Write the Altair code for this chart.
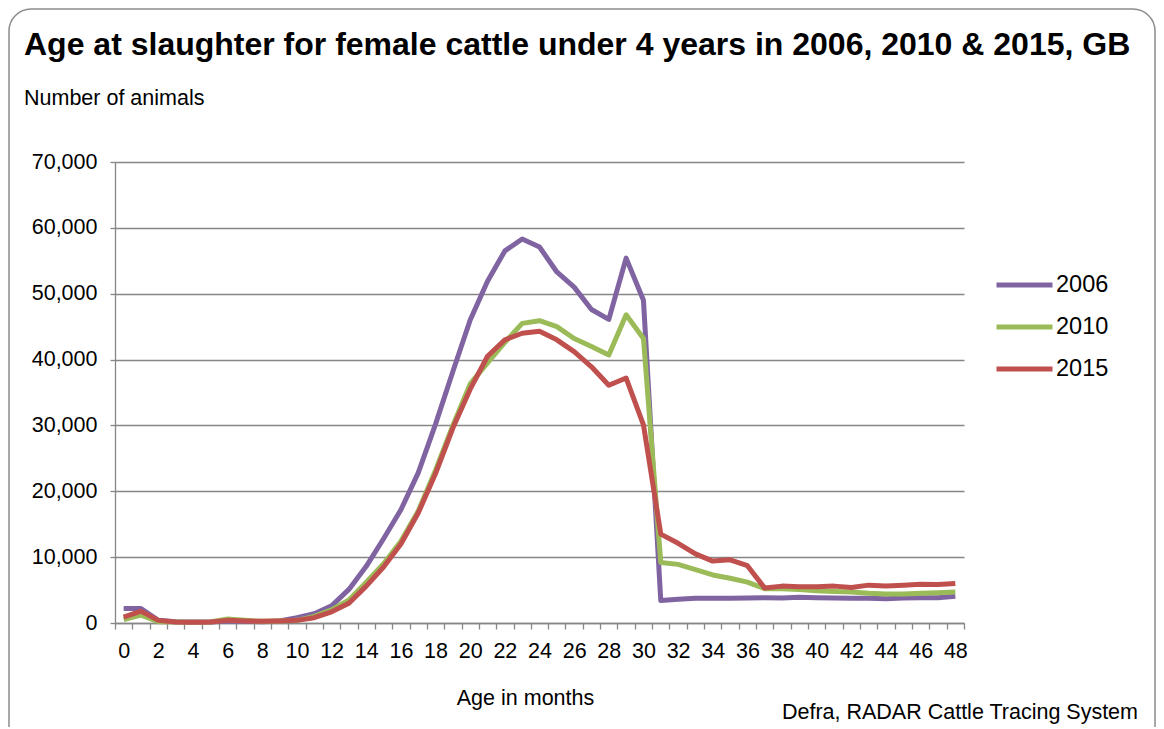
import altair as alt
import pandas as pd

# ---------------- data ----------------
months = list(range(49))
years = ["2006", "2010", "2015"]
colors = ["#8064A2", "#9BBB59", "#C0504D"]

y2006 = [2200, 2200, 400, 200, 150, 150, 300, 250, 200, 300,
         800, 1400, 2600, 5100, 8600, 12800, 17200, 22800, 30200, 38200,
         46000, 51900, 56500, 58300, 57100, 53300, 51000, 47600, 46100, 55400,
         49000, 3400, 3600, 3750, 3750, 3750, 3800, 3850, 3800, 3900,
         3850, 3800, 3750, 3750, 3700, 3800, 3850, 3850, 4050]
y2010 = [500, 1200, 200, 150, 100, 150, 600, 400, 250, 300,
         400, 1000, 2000, 3500, 6200, 9000, 12400, 17000, 23200, 30000,
         36300, 39500, 42600, 45500, 45900, 45000, 43200, 42000, 40700, 46800,
         43200, 9200, 8900, 8100, 7300, 6800, 6200, 5200, 5200, 5100,
         4900, 4800, 4700, 4500, 4400, 4400, 4500, 4600, 4700]
y2015 = [900, 1800, 400, 150, 100, 150, 400, 300, 250, 300,
         400, 800, 1700, 3000, 5600, 8500, 12000, 16700, 22700, 29600,
         35500, 40500, 43000, 44000, 44300, 43000, 41200, 38900, 36100, 37200,
         30100, 13500, 12100, 10500, 9400, 9600, 8700, 5300, 5600, 5500,
         5500, 5600, 5400, 5750, 5600, 5750, 5900, 5850, 6000]

title_text = "Age at slaughter for female cattle under 4 years in 2006, 2010 & 2015, GB"
y_title = "Number of animals"
x_title = "Age in months"
source_text = "Defra, RADAR Cattle Tracing System"

y_ticks = [0, 10000, 20000, 30000, 40000, 50000, 60000, 70000]
x_boundaries = [m - 0.5 for m in months] + [48.5]

rows = []
for yr, vals in zip(years, [y2006, y2010, y2015]):
    for m, v in zip(months, vals):
        rows.append({"month": m, "animals": v, "year": yr})
df = pd.DataFrame(rows)

# ---------------- layout ----------------
W, H = 849, 461
GREY = "#868686"
FONT = "Liberation Sans"
FS = 21.5

x_scale = alt.Scale(domain=[-0.5, 48.5], nice=False, zero=False)
y_scale = alt.Scale(domain=[0, 70000], nice=False)

lines = alt.Chart(df).mark_line(strokeWidth=5, strokeJoin="round").encode(
    x=alt.X(
        "month:Q",
        scale=x_scale,
        axis=alt.Axis(
            values=x_boundaries,
            labelExpr="(datum.value + 0.5) % 2 == 0 ? format(datum.value + 0.5, 'd') : ''",
            labelOffset=8.66,
            labelOverlap=False,
            labelFlush=False,
            labelBound=False,
            labelFontSize=FS,
            labelPadding=11,
            labelColor="#000000",
            tickSize=6,
            tickColor=GREY,
            tickWidth=1.3,
            domainColor=GREY,
            domainWidth=1.3,
            grid=False,
            title=x_title,
            titleFontSize=FS,
            titleFontWeight="normal",
            titleColor="#000000",
            titleX=410,
            titleY=81,
            titleAlign="center",
            titleBaseline="alphabetic",
        ),
    ),
    y=alt.Y(
        "animals:Q",
        scale=y_scale,
        axis=alt.Axis(
            values=y_ticks,
            format=",.0f",
            labelFontSize=FS,
            labelPadding=13,
            labelColor="#000000",
            tickSize=5,
            tickColor=GREY,
            tickWidth=1.3,
            domainColor=GREY,
            domainWidth=1.3,
            grid=True,
            gridColor=GREY,
            gridWidth=1.3,
            title=None,
        ),
    ),
    color=alt.Color(
        "year:N",
        scale=alt.Scale(domain=years, range=colors),
        legend=alt.Legend(
            orient="none",
            legendX=879,
            legendY=92.5,
            title=None,
            direction="vertical",
            labelFontSize=23.5,
            labelColor="#000000",
            symbolType="stroke",
            symbolSize=3136,
            symbolStrokeWidth=5,
            rowPadding=0,
            labelOffset=1,
        ),
    ),
    order=alt.Order("month:Q"),
)

frame_df = pd.DataFrame({"k": [0]})
frame = alt.Chart(frame_df).mark_rect(
    cornerRadius=22, fillOpacity=0, stroke="#8c8c8c", strokeWidth=1.5
).encode(
    x=alt.value(-106), x2=alt.value(1040), y=alt.value(-153), y2=alt.value(600)
)

title_mark = alt.Chart(frame_df).mark_text(
    align="left", baseline="alphabetic", fontSize=32, fontWeight="bold", color="#000000"
).encode(x=alt.value(-91), y=alt.value(-107), text=alt.value(title_text))

sub_mark = alt.Chart(frame_df).mark_text(
    align="left", baseline="alphabetic", fontSize=FS, color="#000000"
).encode(x=alt.value(-91), y=alt.value(-57), text=alt.value(y_title))

source_mark = alt.Chart(frame_df).mark_text(
    align="right", baseline="alphabetic", fontSize=FS, color="#000000"
).encode(x=alt.value(1023), y=alt.value(557), text=alt.value(source_text))

chart = alt.layer(frame, lines, title_mark, sub_mark, source_mark).properties(
    width=W,
    height=H,
    padding={"left": 107, "top": 154, "right": 192, "bottom": 104},
    autosize=alt.AutoSizeParams(type="none"),
    background="white",
).configure(font=FONT).configure_view(stroke=None)

chart.save("out.html", embed_options={"renderer": "svg", "actions": False})
